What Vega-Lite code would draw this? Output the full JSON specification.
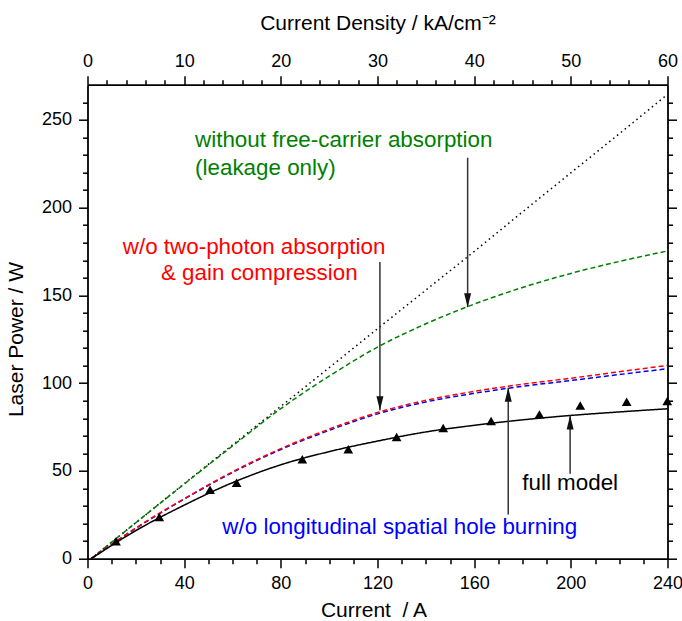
{
  "$schema": "https://vega.github.io/schema/vega-lite/v6.json",
  "width": 580,
  "height": 474,
  "autosize": {"type": "none"},
  "padding": {"left": 87.5, "top": 84.7, "right": 14.5, "bottom": 62.3},
  "background": "white",
  "config": {
    "view": {"stroke": null},
    "font": "Liberation Sans",
    "axis": {
      "grid": false,
      "domainColor": "#000000",
      "domainWidth": 1.8,
      "tickColor": "#000000",
      "tickWidth": 1.5,
      "labelColor": "#000000",
      "labelFontSize": 18,
      "labelFont": "Liberation Sans",
      "titleFont": "Liberation Sans",
      "titleFontSize": 21,
      "titleFontWeight": "normal",
      "titleColor": "#000000",
      "labelOverlap": false,
      "labelFlush": false,
      "labelBound": false
    }
  },
  "datasets": {
    "curves": [
      {"I": 1.5, "P": 0, "model": "ideal"},
      {"I": 20, "P": 20.5, "model": "ideal"},
      {"I": 40, "P": 42.7, "model": "ideal"},
      {"I": 60, "P": 64.8, "model": "ideal"},
      {"I": 80, "P": 86.8, "model": "ideal"},
      {"I": 100, "P": 108.8, "model": "ideal"},
      {"I": 120, "P": 131, "model": "ideal"},
      {"I": 140, "P": 153, "model": "ideal"},
      {"I": 160, "P": 175, "model": "ideal"},
      {"I": 180, "P": 197.5, "model": "ideal"},
      {"I": 200, "P": 219.8, "model": "ideal"},
      {"I": 220, "P": 242, "model": "ideal"},
      {"I": 240, "P": 264.5, "model": "ideal"},
      {"I": 1.5, "P": 0, "model": "leakage only"},
      {"I": 20, "P": 20.5, "model": "leakage only"},
      {"I": 40, "P": 42.5, "model": "leakage only"},
      {"I": 60, "P": 64.2, "model": "leakage only"},
      {"I": 80, "P": 85.5, "model": "leakage only"},
      {"I": 100, "P": 104, "model": "leakage only"},
      {"I": 120, "P": 120.5, "model": "leakage only"},
      {"I": 140, "P": 133.8, "model": "leakage only"},
      {"I": 160, "P": 145, "model": "leakage only"},
      {"I": 180, "P": 154.5, "model": "leakage only"},
      {"I": 200, "P": 162.5, "model": "leakage only"},
      {"I": 220, "P": 169.3, "model": "leakage only"},
      {"I": 240, "P": 175.3, "model": "leakage only"},
      {"I": 1.5, "P": 0, "model": "no LSHB"},
      {"I": 20, "P": 17.3, "model": "no LSHB"},
      {"I": 40, "P": 33.9, "model": "no LSHB"},
      {"I": 60, "P": 49.1, "model": "no LSHB"},
      {"I": 80, "P": 62.2, "model": "no LSHB"},
      {"I": 100, "P": 73.1, "model": "no LSHB"},
      {"I": 120, "P": 82.5, "model": "no LSHB"},
      {"I": 140, "P": 89.3, "model": "no LSHB"},
      {"I": 160, "P": 94.2, "model": "no LSHB"},
      {"I": 180, "P": 98.2, "model": "no LSHB"},
      {"I": 200, "P": 101.5, "model": "no LSHB"},
      {"I": 220, "P": 104.9, "model": "no LSHB"},
      {"I": 240, "P": 108.2, "model": "no LSHB"},
      {"I": 1.5, "P": 0, "model": "no TPA & GC"},
      {"I": 20, "P": 17.5, "model": "no TPA & GC"},
      {"I": 40, "P": 34.2, "model": "no TPA & GC"},
      {"I": 60, "P": 49.5, "model": "no TPA & GC"},
      {"I": 80, "P": 62.7, "model": "no TPA & GC"},
      {"I": 100, "P": 73.8, "model": "no TPA & GC"},
      {"I": 120, "P": 83.3, "model": "no TPA & GC"},
      {"I": 140, "P": 90.2, "model": "no TPA & GC"},
      {"I": 160, "P": 95.3, "model": "no TPA & GC"},
      {"I": 180, "P": 99.4, "model": "no TPA & GC"},
      {"I": 200, "P": 102.8, "model": "no TPA & GC"},
      {"I": 220, "P": 106.5, "model": "no TPA & GC"},
      {"I": 240, "P": 110.1, "model": "no TPA & GC"},
      {"I": 1.5, "P": 0, "model": "full model"},
      {"I": 20, "P": 16, "model": "full model"},
      {"I": 40, "P": 30.5, "model": "full model"},
      {"I": 60, "P": 43.3, "model": "full model"},
      {"I": 80, "P": 53.5, "model": "full model"},
      {"I": 100, "P": 61, "model": "full model"},
      {"I": 120, "P": 67, "model": "full model"},
      {"I": 140, "P": 72.2, "model": "full model"},
      {"I": 160, "P": 76, "model": "full model"},
      {"I": 180, "P": 79.1, "model": "full model"},
      {"I": 200, "P": 81.6, "model": "full model"},
      {"I": 220, "P": 83.6, "model": "full model"},
      {"I": 240, "P": 85.4, "model": "full model"}
    ],
    "measured": [
      {"I": 11.8, "P": 9.9},
      {"I": 29.7, "P": 23.7},
      {"I": 50.7, "P": 39.3},
      {"I": 61.7, "P": 43.3},
      {"I": 88.9, "P": 56.6},
      {"I": 107.9, "P": 62.3},
      {"I": 127.9, "P": 69.3},
      {"I": 147.2, "P": 74.4},
      {"I": 167, "P": 78.4},
      {"I": 187, "P": 82.2},
      {"I": 203.9, "P": 87.3},
      {"I": 223.1, "P": 89.4},
      {"I": 239.9, "P": 89.8}
    ],
    "arrows": [
      {"I": 157.3, "from": 228.4, "tip": 143.3, "dir": "down"},
      {"I": 121, "from": 169, "tip": 84.5, "dir": "down"},
      {"I": 174.1, "from": 25.2, "tip": 97.4, "dir": "up"},
      {"I": 199.7, "from": 48.4, "tip": 81.6, "dir": "up"}
    ],
    "labels": [
      {"I": 44.5, "P": 234.4, "text": "without free-carrier absorption", "model": "leakage only"},
      {"I": 44.5, "P": 218.5, "text": "(leakage only)", "model": "leakage only"},
      {"I": 14.6, "P": 173.7, "text": "w/o two-photon absorption", "model": "no TPA & GC"},
      {"I": 30.4, "P": 158.8, "text": "& gain compression", "model": "no TPA & GC"},
      {"I": 55.8, "P": 13.8, "text": "w/o longitudinal spatial hole burning", "model": "no LSHB"},
      {"I": 179.9, "P": 38.9, "text": "full model", "model": "full model"}
    ]
  },
  "layer": [
    {
      "data": {"name": "curves"},
      "mark": {"type": "line", "strokeWidth": 1.5, "clip": true, "interpolate": "monotone"},
      "encoding": {
        "x": {
          "field": "I", "type": "quantitative",
          "scale": {"domain": [0, 240], "nice": false, "zero": true},
          "axis": {
            "orient": "bottom",
            "title": "Current\u00a0\u00a0/ A",
            "values": [0, 10, 20, 30, 40, 50, 60, 70, 80, 90, 100, 110, 120, 130, 140, 150, 160, 170, 180, 190, 200, 210, 220, 230, 240],
            "labelExpr": "datum.value % 40 === 0 ? datum.label : ''",
            "tickSize": {"condition": {"test": "datum.value % 40 === 0", "value": 9}, "value": 5},
            "labelPadding": 7,
            "titleBaseline": "alphabetic",
            "titleAlign": "center",
            "titleX": 286,
            "titleY": 57.7
          }
        },
        "y": {
          "field": "P", "type": "quantitative",
          "scale": {"domain": [0, 270], "nice": false, "zero": true},
          "axis": {
            "orient": "left",
            "title": "Laser Power / W",
            "values": [0, 10, 20, 30, 40, 50, 60, 70, 80, 90, 100, 110, 120, 130, 140, 150, 160, 170, 180, 190, 200, 210, 220, 230, 240, 250, 260],
            "labelExpr": "datum.value % 50 === 0 ? datum.label : ''",
            "tickSize": {"condition": {"test": "datum.value % 50 === 0", "value": 9}, "value": 5},
            "labelPadding": 7,
            "titleAngle": 270,
            "titleBaseline": "alphabetic",
            "titleAlign": "center",
            "titleX": -64.8,
            "titleY": 254.3
          }
        },
        "color": {
          "field": "model", "type": "nominal",
          "scale": {
            "domain": ["ideal", "leakage only", "no TPA & GC", "no LSHB", "full model"],
            "range": ["#000000", "#008000", "#ff0000", "#0000ff", "#000000"]
          },
          "legend": null
        },
        "strokeDash": {
          "field": "model", "type": "nominal",
          "scale": {
            "domain": ["ideal", "leakage only", "no TPA & GC", "no LSHB", "full model"],
            "range": [[1.5, 3.5], [5, 3], [5, 3], [5, 3], [1, 0]]
          },
          "legend": null
        },
        "detail": {"field": "model"}
      }
    },
    {
      "data": {"name": "measured"},
      "mark": {"type": "point", "shape": "triangle-up", "filled": true, "size": 95, "color": "#000000", "opacity": 1},
      "encoding": {
        "x": {
          "field": "I", "type": "quantitative",
          "axis": {
            "orient": "top",
            "title": "Current Density / kA/cm⁻²",
            "values": [0, 8, 16, 24, 32, 40, 48, 56, 64, 72, 80, 88, 96, 104, 112, 120, 128, 136, 144, 152, 160, 168, 176, 184, 192, 200, 208, 216, 224, 232, 240],
            "labelExpr": "datum.value % 40 === 0 ? format(datum.value / 4, 'd') : ''",
            "tickSize": {"condition": {"test": "datum.value % 40 === 0", "value": 9}, "value": 5},
            "labelPadding": 5,
            "titleBaseline": "alphabetic",
            "titleAlign": "center",
            "titleX": 290,
            "titleY": -55.4
          }
        },
        "y": {
          "field": "P", "type": "quantitative",
          "axis": {
            "orient": "right",
            "title": null,
            "labels": false,
            "values": [0, 10, 20, 30, 40, 50, 60, 70, 80, 90, 100, 110, 120, 130, 140, 150, 160, 170, 180, 190, 200, 210, 220, 230, 240, 250, 260],
            "tickSize": {"condition": {"test": "datum.value % 50 === 0", "value": 9}, "value": 5}
          }
        }
      }
    },
    {
      "data": {"name": "arrows"},
      "mark": {"type": "rule", "color": "#333333", "strokeWidth": 1.5},
      "encoding": {
        "x": {"field": "I", "type": "quantitative", "axis": null},
        "y": {"field": "from", "type": "quantitative", "axis": null},
        "y2": {"field": "tip"}
      }
    },
    {
      "data": {"name": "arrows"},
      "mark": {"type": "point", "filled": true, "size": 784, "color": "#111111", "opacity": 1, "strokeWidth": 0},
      "encoding": {
        "x": {"field": "I", "type": "quantitative", "axis": null},
        "y": {"field": "tip", "type": "quantitative", "axis": null},
        "shape": {
          "field": "dir", "type": "nominal",
          "scale": {"domain": ["down", "up"], "range": ["M0,0L-0.25,-1L0.25,-1Z", "M0,0L-0.25,1L0.25,1Z"]},
          "legend": null
        }
      }
    },
    {
      "data": {"name": "labels"},
      "mark": {"type": "text", "align": "left", "baseline": "alphabetic", "fontSize": 22.4, "font": "Liberation Sans"},
      "encoding": {
        "x": {"field": "I", "type": "quantitative", "axis": null},
        "y": {"field": "P", "type": "quantitative", "axis": null},
        "text": {"field": "text"},
        "color": {"field": "model", "type": "nominal", "legend": null}
      }
    }
  ],
  "resolve": {"axis": {"x": "independent", "y": "independent"}}
}
